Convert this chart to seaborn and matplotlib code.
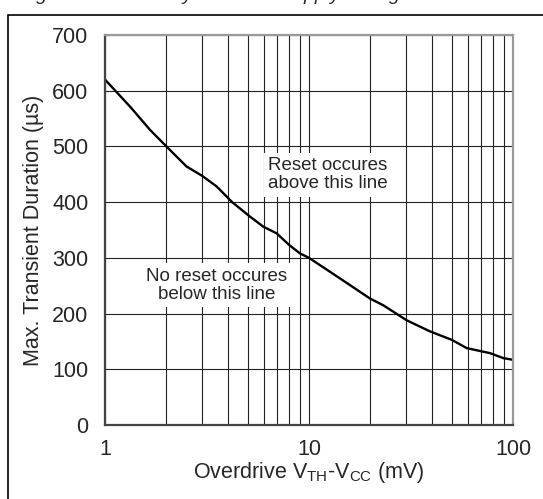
import numpy as np
import pandas as pd
import seaborn as sns
import matplotlib
matplotlib.use('Agg')
import matplotlib.pyplot as plt
from matplotlib.patches import Rectangle

# values
overdrive_mv = [1.0, 1.33, 1.66, 2.0, 2.51, 3.0, 3.53, 4.2, 5.14, 5.97, 6.94, 8.0,
                9.03, 10.0, 14.2, 19.9, 23.1, 30.1, 39.2, 50.0, 59.3, 77.1, 89.7, 100.0]
duration_us = [620, 571, 530, 500, 464, 447, 428, 400, 374, 356, 344, 323,
               308, 300, 263, 227, 215, 188, 168, 153, 138, 129, 120, 117]

y_ticks = [0, 100, 200, 300, 400, 500, 600, 700]
x_ticks = [1, 10, 100]
x_ticklabels = ['1', '10', '100']

title_text = 'Figure 10. Immunity to Power Supply Voltage Transients'
text_above = 'Reset occures\nabove this line'
text_below = 'No reset occures\nbelow this line'

sns.set_style('white')
plt.rcParams['font.family'] = ['Liberation Sans', 'DejaVu Sans']
plt.rcParams['mathtext.fontset'] = 'custom'
plt.rcParams['mathtext.rm'] = 'Liberation Sans'
plt.rcParams['mathtext.it'] = 'Liberation Sans:italic'

df = pd.DataFrame({'overdrive': overdrive_mv, 'duration': duration_us})

fig = plt.figure(figsize=(5.43, 4.99), dpi=100)
ax = fig.add_axes([105 / 543, 1 - 425 / 499, 408 / 543, 390 / 499])

sns.lineplot(data=df, x='overdrive', y='duration', ax=ax, color='black', lw=1.7)

ax.set_xscale('log')
ax.set_xlim(1, 100)
ax.set_ylim(0, 700)
ax.set_yticks(y_ticks)
ax.set_xticks(x_ticks)
ax.set_xticklabels(x_ticklabels)
ax.grid(which='major', color='#222222', lw=0.8)
ax.grid(which='minor', axis='x', color='#222222', lw=0.8)
ax.tick_params(which='both', length=0, labelsize=15.5)
ax.tick_params(axis='x', pad=10)
ax.tick_params(axis='y', pad=12)

for side in ['left', 'bottom']:
    ax.spines[side].set_color('#444444')
    ax.spines[side].set_linewidth(1.6)
for side in ['top', 'right']:
    ax.spines[side].set_color('#999999')
    ax.spines[side].set_linewidth(1.6)

ax.set_xlabel(r'Overdrive V$_{\mathrm{TH}}$-V$_{\mathrm{CC}}$ (mV)', fontsize=15.5, labelpad=0)
ax.set_ylabel('Max. Transient Duration (µs)', fontsize=15.5, labelpad=6)

box = dict(facecolor='white', edgecolor='none', pad=3)
ax.text(12.4, 449, text_above, ha='center', va='center', fontsize=13.5, bbox=box, linespacing=1.1)
ax.text(3.53, 251, text_below, ha='center', va='center', fontsize=13.5, bbox=box, linespacing=1.1)

# outer frame of the figure, cut off on the right and bottom
fig.patches.append(Rectangle((8 / 543, -0.1), 1.2, 1.1 - 15 / 499, transform=fig.transFigure,
                             fill=False, edgecolor='black', lw=1.2))

# the caption is cut off at the top of the picture: only descenders show
fig.text(20 / 543, 1 + 0.5 / 499, title_text, fontsize=14, style='italic', ha='left', va='baseline')

fig.savefig('out.png', dpi=100)
